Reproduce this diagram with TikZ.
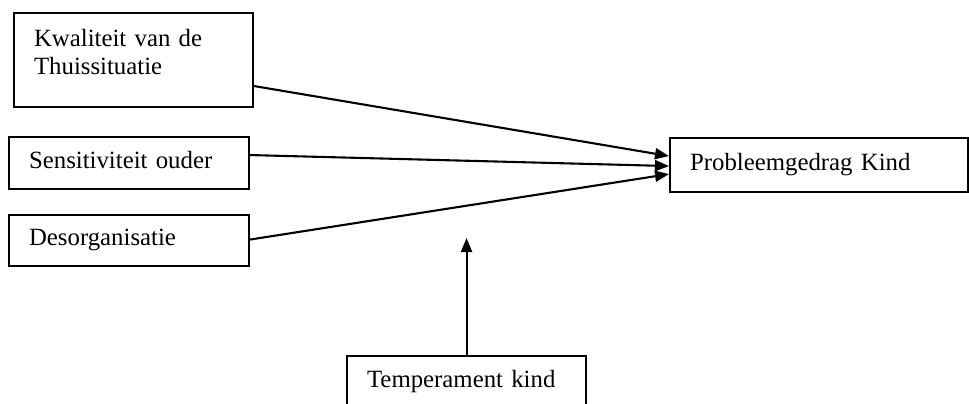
\documentclass[tikz,border=0pt]{standalone}
\usepackage{fontspec}
\setmainfont{Liberation Serif}
\usepackage{tikz}
\usetikzlibrary{arrows.meta, positioning, calc}
\tikzstyle{box} = [rectangle, draw=black, line width=1.05pt, anchor=north west, inner xsep=10pt, inner ysep=0pt, align=left, text height=8.5pt, text depth=3.5pt]
\tikzstyle{arrow} = [line width=1.05pt, -{Triangle[length=7pt, width=5.5pt]}]

\begin{document}
\begin{tikzpicture}[x=0.5pt, y=-0.5pt, every node/.style={font=\fontsize{12.4}{14}\selectfont}]
    \clip (0,0) rectangle (969,403);
    \node (kwal) [box, text width=99.5pt, minimum height=47pt, text depth=22.5pt] at (13,12) {Kwaliteit van de\\Thuissituatie};
    \node (sens) [box, text width=100pt, minimum height=26pt] at (8,136) {Sensitiviteit ouder};
    \node (desorg) [box, text width=100pt, minimum height=25.5pt] at (8,214) {Desorganisatie};
    \node (probl) [box, text width=129pt, minimum height=27pt] at (669,137) {Probleemgedrag Kind};
    \node (temp) [box, text width=99.5pt, minimum height=26pt] at (346,355) {Temperament kind};

    \foreach \i/\a/\b in {kwal/26/-9, sens/-8/1, desorg/-1/9} {
        \draw [arrow] ($(\i.east)+(0,\a)$) -- ($(probl.west)+(0,\b)$);
    }
    \coordinate (modtip) at ($(temp.north)+(0,-117)$);
    \draw [arrow] (temp.north) -- (modtip);
\end{tikzpicture}
\end{document}
